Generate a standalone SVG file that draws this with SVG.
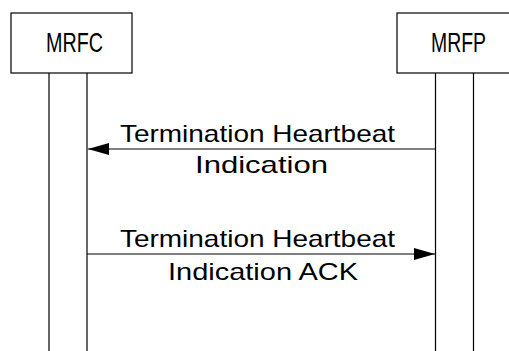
<svg xmlns="http://www.w3.org/2000/svg" width="509" height="351" viewBox="0 0 509 351">
<style>
.box{fill:#fff;stroke:#000;stroke-width:1.2}
.life{stroke:#000;stroke-width:1.2;fill:none}
.msg{stroke:#000;stroke-width:1;fill:none}
.lbl{font-family:"Liberation Sans",Arial,sans-serif;font-size:24px;fill:#000;text-anchor:start}
.name{font-family:"Liberation Sans",Arial,sans-serif;font-size:28px;fill:#000}
</style>
<defs>
<marker id="ah" markerWidth="21" markerHeight="12" refX="21" refY="6" orient="auto" markerUnits="userSpaceOnUse">
<path d="M0,0 L21,6 L0,12 Z" fill="#000"/>
</marker>
</defs>
<g id="MRFC">
<rect class="box" x="11" y="13" width="121" height="60"/>
<text class="name" x="46" y="52" textLength="57" lengthAdjust="spacingAndGlyphs">MRFC</text>
<line class="life" x1="49" y1="73" x2="49" y2="351"/>
<line class="life" x1="87" y1="73" x2="87" y2="351"/>
</g>
<g id="MRFP">
<rect class="box" x="397" y="13" width="120" height="60"/>
<text class="name" x="431" y="52" textLength="55" lengthAdjust="spacingAndGlyphs">MRFP</text>
<line class="life" x1="435.5" y1="73" x2="435.5" y2="351"/>
<line class="life" x1="473.5" y1="73" x2="473.5" y2="351"/>
</g>
<g id="connectors">
<line class="msg" x1="435" y1="149" x2="88" y2="149" marker-end="url(#ah)"/>
<text class="lbl" x="120" y="142" textLength="275" lengthAdjust="spacingAndGlyphs">Termination Heartbeat</text>
<text class="lbl" x="195" y="173" textLength="133" lengthAdjust="spacingAndGlyphs">Indication</text>
<line class="msg" x1="87" y1="254" x2="435" y2="254" marker-end="url(#ah)"/>
<text class="lbl" x="120" y="247" textLength="275" lengthAdjust="spacingAndGlyphs">Termination Heartbeat</text>
<text class="lbl" x="168" y="280" textLength="190" lengthAdjust="spacingAndGlyphs">Indication ACK</text>
</g>
</svg>
